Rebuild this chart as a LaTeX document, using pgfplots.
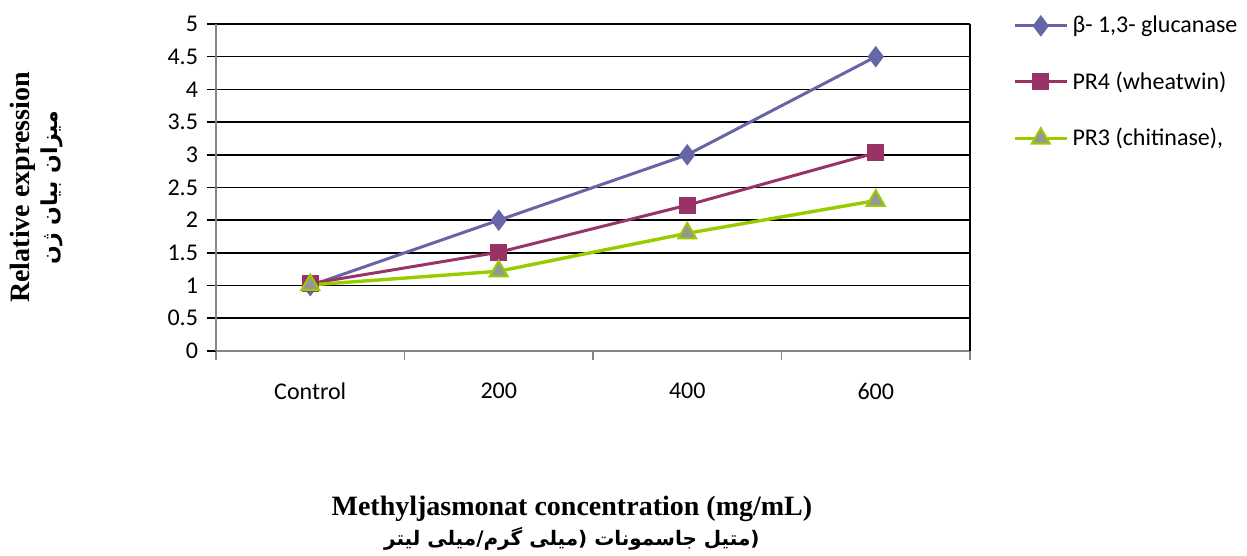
\documentclass[border=0pt]{standalone}
\usepackage{fontspec}
\usepackage{pgfplots}
\pgfplotsset{compat=1.18}
\setmainfont{Liberation Serif}
\newfontfamily\calibri{Carlito}
\newfontfamily\arabicfont[Script=Arabic]{DejaVu Sans}
\TeXXeTstate=1

\definecolor{cBlue}{RGB}{102,102,166}
\definecolor{cMag}{RGB}{153,51,102}
\definecolor{cGreen}{RGB}{153,204,0}
\definecolor{cGray}{RGB}{150,150,150}
\definecolor{axisGray}{RGB}{134,134,134}

\begin{document}
\begin{tikzpicture}
% page size: 1247 x 556 px at 0.5pt per px, axis box SW corner at origin
\path[use as bounding box] (-108pt,-102.5pt) rectangle (515.5pt,175.5pt);
\begin{axis}[
    scale only axis,
    width=377pt, height=163.5pt,
    xmin=-0.5, xmax=3.5,
    ymin=0, ymax=5,
    clip=false,
    axis line style={draw=none},
    xtick={0,1,2,3},
    xticklabels={Control,200,400,600},
    major x tick style={draw=none},
    minor xtick={-0.5,0.5,1.5,2.5,3.5},
    minor x tick style={axisGray, line width=0.8pt},
    minor tick length=4.5pt,
    ytick={0,0.5,...,5},
    major tick length=4.5pt,
    y tick style={black, line width=0.8pt},
    tick align=outside,
    tick pos=left,
    ymajorgrids,
    major grid style={black, line width=0.8pt},
    /pgf/number format/assume math mode=true,
    ticklabel style={font=\calibri\fontsize{12}{14}\selectfont},
    xticklabel style={yshift=-8pt},
    yticklabel style={xshift=-1pt},
    xlabel={{\bfseries\fontsize{14}{17}\selectfont Methyljasmonat concentration (mg/mL)}\\[2pt]
        {\arabicfont\bfseries\fontsize{10}{12}\selectfont\beginR (متیل جاسمونات (میلی گرم/میلی لیتر\endR}},
    xlabel style={align=center, anchor=center,
        at={([yshift=-86pt]axis description cs:0.472,0)}},
    ylabel={{\bfseries\fontsize{14}{17}\selectfont Relative expression}\\[2pt]
        {\arabicfont\bfseries\fontsize{11}{13}\selectfont\beginR میزان بیان ژن\endR}},
    ylabel style={align=center, anchor=center,
        at={([xshift=-90pt]axis description cs:0,0.5)}},
    legend image code/.code={
        \draw[mark repeat=2,mark phase=2] plot coordinates {(0pt,0pt) (13pt,0pt) (26pt,0pt)};},
    legend cell align=left,
    legend style={draw=none, fill=none, at={(1.054,1.05)}, anchor=north west,
        font=\calibri\fontsize{12}{14}\selectfont, row sep=14pt,
        inner xsep=1pt,
        /tikz/every odd column/.append style={column sep=0pt}},
]
% beta-1,3-glucanase
\addplot[cBlue, line width=1.5pt, mark=diamond*, mark size=5pt,
    mark options={fill=cBlue, draw=cBlue, line width=0.5pt}] coordinates {
    (0,1.00) (1,2.00) (2,3.00) (3,4.50)
};
\addlegendentry{β- 1,3- glucanase}

% PR4 (wheatwin)
\addplot[cMag, line width=1.5pt, mark=square*, mark size=4pt,
    mark options={fill=cMag, draw=cMag, line width=0.5pt}] coordinates {
    (0,1.03) (1,1.51) (2,2.23) (3,3.03)
};
\addlegendentry{PR4 (wheatwin)}

% PR3 (chitinase)
\addplot[cGreen, line width=1.7pt, mark=triangle*, mark size=5.2pt,
    mark options={fill=cGray, draw=cGreen, line width=1pt}] coordinates {
    (0,1.01) (1,1.22) (2,1.80) (3,2.30)
};
\addlegendentry{PR3 (chitinase),}

% frame: grey left and bottom, black right
\draw[axisGray, line width=0.8pt] (rel axis cs:0,0) -- (rel axis cs:0,1);
\draw[axisGray, line width=0.8pt] (rel axis cs:0,0) -- (rel axis cs:1,0);
\draw[black, line width=1pt] (rel axis cs:1,0) -- (rel axis cs:1,1);
\end{axis}
\end{tikzpicture}
\end{document}
